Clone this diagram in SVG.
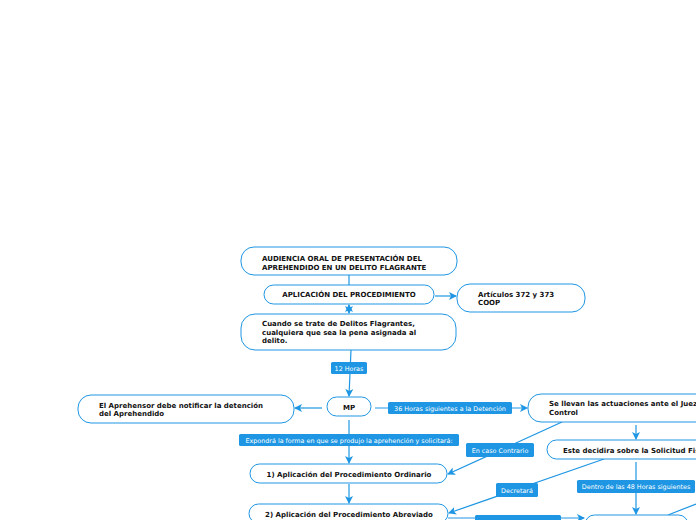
<svg xmlns="http://www.w3.org/2000/svg" width="696" height="520" viewBox="0 0 696 520">
<defs>
<marker id="arr" viewBox="0 0 8 8" refX="7" refY="4" markerWidth="8" markerHeight="8" markerUnits="userSpaceOnUse" orient="auto-start-reverse">
<path d="M0,0 L8,4 L0,8 L2,4 z" fill="#1e96e3"/>
</marker>
</defs>
<style>
.node{fill:#ffffff;stroke:#1e96e3;stroke-width:1}
.t{font-family:"DejaVu Sans",Verdana,sans-serif;font-size:7px;font-weight:bold;fill:#111111}
.c{text-anchor:middle}
.lbl{fill:#1e96e3}
.lt{font-family:"DejaVu Sans",Verdana,sans-serif;font-size:6.4px;fill:#ffffff;text-anchor:middle}
.con{fill:none;stroke:#1e96e3;stroke-width:1.2}
</style>
<rect width="696" height="520" fill="#ffffff"/>
<g id="connectors">
<line class="con" x1="349" y1="275" x2="349" y2="285"/>
<line class="con" x1="349" y1="305" x2="349" y2="313" marker-start="url(#arr)" marker-end="url(#arr)"/>
<line class="con" x1="435" y1="296" x2="456" y2="296" marker-end="url(#arr)"/>
<line class="con" x1="351" y1="350" x2="349" y2="396" marker-end="url(#arr)"/>
<line class="con" x1="322" y1="408" x2="295" y2="408" marker-end="url(#arr)"/>
<line class="con" x1="375" y1="408" x2="527" y2="408" marker-end="url(#arr)"/>
<line class="con" x1="636" y1="425" x2="636" y2="439" marker-end="url(#arr)"/>
<line class="con" x1="349" y1="420" x2="349" y2="463" marker-end="url(#arr)"/>
<line class="con" x1="349" y1="484" x2="349" y2="503" marker-end="url(#arr)"/>
<line class="con" x1="562" y1="422" x2="448" y2="474" marker-end="url(#arr)"/>
<line class="con" x1="604" y1="459" x2="449" y2="513" marker-end="url(#arr)"/>
<line class="con" x1="636" y1="462" x2="636" y2="514" marker-end="url(#arr)"/>
<line class="con" x1="696" y1="504" x2="668" y2="515"/>
<line class="con" x1="448" y1="518" x2="584" y2="518" marker-end="url(#arr)"/>
<rect class="lbl" x="331" y="362" width="36" height="12" rx="1.5"/>
<text class="lt" x="349" y="370.5">12 Horas</text>
<rect class="lbl" x="388" y="402" width="124" height="12" rx="1.5"/>
<text class="lt" x="450" y="410.5">36 Horas siguientes a la Detención</text>
<rect class="lbl" x="239" y="434" width="220" height="12" rx="1.5"/>
<text class="lt" x="349" y="442.5">Expondrá la forma en que se produjo la aprehención y solicitará:</text>
<rect class="lbl" x="466" y="443" width="68" height="14" rx="1.5"/>
<text class="lt" x="500" y="452.5">En caso Contrario</text>
<rect class="lbl" x="496" y="483" width="42" height="14" rx="1.5"/>
<text class="lt" x="517" y="492.5">Decretará</text>
<rect class="lbl" x="577" y="480" width="118" height="13" rx="1.5"/>
<text class="lt" x="636" y="489">Dentro de las 48 Horas siguientes</text>
<rect class="lbl" x="475" y="515" width="86" height="12" rx="1.5"/>
</g>
<g id="n-audiencia">
<rect class="node" x="241" y="247" width="216" height="28" rx="13"/>
<text class="t" x="262" y="260.5">AUDIENCIA ORAL DE PRESENTACIÓN DEL</text>
<text class="t" x="262" y="269.5">APREHENDIDO EN UN DELITO FLAGRANTE</text>
</g>
<g id="n-aplicacion">
<rect class="node" x="264" y="285" width="170" height="19" rx="9.5"/>
<text class="t c" x="349" y="297">APLICACIÓN DEL PROCEDIMIENTO</text>
</g>
<g id="n-articulos">
<rect class="node" x="457" y="284" width="128" height="28" rx="13"/>
<text class="t" x="478" y="296.5">Artículos 372 y 373</text>
<text class="t" x="478" y="305">COOP</text>
</g>
<g id="n-cuando">
<rect class="node" x="241" y="314" width="215" height="36" rx="14"/>
<text class="t" x="262" y="326">Cuando se trate de Delitos Flagrantes,</text>
<text class="t" x="262" y="334.5">cualquiera que sea la pena asignada al</text>
<text class="t" x="262" y="343">delito.</text>
</g>
<g id="n-mp">
<rect class="node" x="327" y="397" width="44" height="19" rx="9.5"/>
<text class="t c" x="349" y="409.5">MP</text>
</g>
<g id="n-aprehensor">
<rect class="node" x="78" y="395" width="216" height="28" rx="13"/>
<text class="t" x="99" y="407.5">El Aprehensor debe notificar la detención</text>
<text class="t" x="99" y="416">del Aprehendido</text>
</g>
<g id="n-juez">
<rect class="node" x="528" y="394" width="230" height="28" rx="13"/>
<text class="t" x="549" y="405.5">Se llevan las actuaciones ante el Juez</text>
<text class="t" x="549" y="414.5">Control</text>
</g>
<g id="n-este">
<rect class="node" x="547" y="440" width="210" height="19" rx="9.5"/>
<text class="t" x="563" y="452.5">Este decidira sobre la Solicitud Fis</text>
</g>
<g id="n-ordinario">
<rect class="node" x="250" y="464" width="197" height="19" rx="9.5"/>
<text class="t c" x="349" y="476.5">1) Aplicación del Procedimiento Ordinario</text>
</g>
<g id="n-abreviado">
<rect class="node" x="249" y="504" width="199" height="19" rx="9.5"/>
<text class="t c" x="349" y="516.5">2) Aplicación del Procedimiento Abreviado</text>
</g>
<g id="n-bottom">
<rect class="node" x="585" y="515" width="103" height="19" rx="9.5"/>
</g>
</svg>
